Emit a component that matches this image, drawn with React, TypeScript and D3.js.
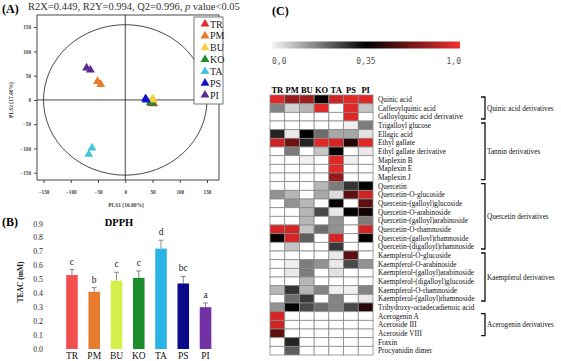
import React, { useEffect, useRef } from 'react';
import * as d3 from 'd3';

const groups = ['TR', 'PM', 'BU', 'KO', 'TA', 'PS', 'PI'];
const scoreColors = ['#e42a2a', '#ec7a2c', '#f6cf45', '#1f8b2f', '#45c6d8', '#1212c8', '#5b2a8e'];

// PLS-DA score plot, two replicates per group
const scoreGroup = ['TR', 'TR', 'KO', 'KO', 'BU', 'BU', 'PS', 'PS', 'PM', 'PM', 'TA', 'TA', 'PI', 'PI'];
const scoreX = [48, 52, 46, 50, 50, 52, 37, 39, -51, -45, -61, -67, -71, -64];
const scoreY = [-7, -8, -5, -6, 2, 0, 2, 0, 38, 32, -99, -112, 66, 62];
const scoreTicks = [-150, -100, -50, 0, 50, 100, 150];

// DPPH assay
const dpphMean = [0.53, 0.41, 0.49, 0.51, 0.72, 0.47, 0.30];
const dpphErr = [0.04, 0.03, 0.06, 0.05, 0.06, 0.05, 0.03];
const dpphLetters = ['c', 'b', 'c', 'c', 'd', 'bc', 'a'];
const barColors = ['#f24f4f', '#e87b2e', '#d5ef4a', '#1d8d2b', '#2bb3e6', '#0b0b8a', '#7131a2'];
const dpphTicks = [0, 0.1, 0.2, 0.3, 0.4, 0.5, 0.6, 0.7, 0.8, 0.9];

// heatmap
const compounds = [
  'Quinic acid', 'Caffeoylquinic acid', 'Galloylquinic acid derivative', 'Trigalloyl glucose',
  'Ellagic acid', 'Ethyl gallate', 'Ethyl gallate derivative', 'Maplexin B', 'Maplexin E', 'Maplexin J',
  'Quercetin', 'Quercetin-O-glucoside', 'Quercetin-(galloyl)glucoside', 'Quercetin-O-arabinoside',
  'Quercetin-(galloyl)arabinoside', 'Quercetin-O-rhamnoside', 'Quercetin-(galloyl)rhamnoside',
  'Quercetin-(digalloyl)rhamnoside', 'Kaempferol-O-glucoside', 'Kaempferol-O-arabinoside',
  'Kaempferol-(galloyl)arabinoside', 'Kaempferol-(digalloyl)glucoside', 'Kaempferol-O-rhamnoside',
  'Kaempferol-(galloyl)rhamnoside', 'Trihydroxy-octadecadienoic acid', 'Acerogenin A', 'Aceroside III',
  'Aceroside VIII', 'Fraxin', 'Procyanidin dimer',
];
const heatValues = [
  [0.95, 0.75, 0.78, 0.38, 0.9, 0.95, 0.95],
  [0.17, 0.06, 0.1, 0.95, 0, 0.95, 0.08],
  [0, 0, 0, 0, 0, 0.95, 0],
  [0, 0, 0, 0, 0, 0.02, 0.18],
  [0.3, 0.03, 0.35, 0.2, 0.12, 0.12, 0.04],
  [0.9, 0.65, 0.3, 0.95, 0.92, 0.45, 0.95],
  [0, 0.18, 0, 0.08, 0.36, 0, 0.03],
  [0, 0, 0.02, 0, 0.95, 0.02, 0],
  [0, 0, 0, 0, 0.95, 0, 0],
  [0, 0, 0, 0, 0.75, 0, 0],
  [0, 0, 0, 0.1, 0.18, 0.28, 0.36],
  [0.15, 0.1, 0, 0.12, 0.05, 0.6, 0.9],
  [0, 0.15, 0.1, 0, 0.36, 0, 0.6],
  [0, 0, 0.1, 0.25, 0.03, 0.36, 0.4],
  [0, 0, 0.1, 0, 0.15, 0, 0.18],
  [0.92, 0.92, 0.08, 0.2, 0.15, 0, 0.92],
  [0.38, 0.92, 0.22, 0, 0.92, 0, 0.36],
  [0, 0.08, 0, 0, 0.27, 0, 0],
  [0, 0, 0, 0, 0.03, 0.6, 0],
  [0, 0.02, 0.18, 0.15, 0.03, 0.25, 0.15],
  [0, 0.03, 0.18, 0, 0.04, 0, 0],
  [0, 0, 0.1, 0, 0, 0, 0],
  [0.1, 0.28, 0.1, 0.17, 0.02, 0.02, 0.17],
  [0, 0.2, 0.27, 0, 0.17, 0, 0.03],
  [0.15, 0.36, 0.25, 0.2, 0.17, 0.25, 0.45],
  [0.92, 0, 0, 0, 0, 0, 0],
  [0.9, 0, 0, 0, 0, 0, 0],
  [0.6, 0, 0, 0, 0, 0, 0],
  [0, 0.3, 0, 0, 0, 0, 0],
  [0, 0.22, 0, 0, 0, 0, 0],
];
const classLabels = ['Quinic acid derivatives', 'Tannin derivatives', 'Quercetin derivatives', 'Kaempferol derivatives', 'Acerogenin  derivatives'];
const classFirst = [0, 3, 10, 18, 25];
const classLast = [2, 9, 17, 23, 27];

const serif = "'Liberation Serif', 'Times New Roman', serif";

export default function App() {
  const svgRef = useRef<SVGSVGElement>(null);

  useEffect(() => {
    const svg = d3.select(svgRef.current);
    svg.selectAll('*').remove();

    // ---------- (A) score plot ----------
    const a = svg.append('g');
    const x = d3.scaleLinear().domain([-162, 172]).range([37, 219]);
    const y = d3.scaleLinear().domain([-165, 175]).range([180, 15]);

    a.append('text').attr('x', 2).attr('y', 13).attr('font-family', serif)
      .attr('font-weight', 'bold').attr('font-size', 12).text('(A)');
    const title = a.append('text').attr('x', 28).attr('y', 9.5).attr('font-family', serif)
      .attr('font-size', 10.5).attr('fill', '#333');
    title.append('tspan').text('R2X=0.449, R2Y=0.994, Q2=0.996, ');
    title.append('tspan').attr('font-style', 'italic').text('p');
    title.append('tspan').text(' value<0.05');

    a.append('rect').attr('x', 37).attr('y', 15).attr('width', 182).attr('height', 165)
      .attr('fill', 'white').attr('stroke', '#333').attr('stroke-width', 0.9);

    a.append('ellipse').attr('cx', x(0)).attr('cy', y(0))
      .attr('rx', x(150) - x(0)).attr('ry', y(0) - y(155))
      .attr('fill', 'none').attr('stroke', '#333').attr('stroke-width', 0.9);
    a.append('line').attr('x1', x(0)).attr('x2', x(0)).attr('y1', 15).attr('y2', 180)
      .attr('stroke', '#333').attr('stroke-width', 0.9);
    a.append('line').attr('x1', 37).attr('x2', 219).attr('y1', y(0)).attr('y2', y(0))
      .attr('stroke', '#333').attr('stroke-width', 0.9);

    const xAxis = a.append('g').attr('transform', 'translate(0,180)')
      .call(d3.axisBottom(x).tickValues(scoreTicks).tickSize(3).tickPadding(7));
    const yAxis = a.append('g').attr('transform', 'translate(37,0)')
      .call(d3.axisLeft(y).tickValues(scoreTicks).tickSize(3).tickPadding(3));
    [xAxis, yAxis].forEach(ax => {
      ax.select('.domain').remove();
      ax.selectAll('line').attr('stroke', '#444');
      ax.selectAll('text').attr('font-family', serif).attr('font-size', 5.2)
        .attr('font-weight', 'bold').attr('fill', '#444');
    });

    a.append('text').attr('x', 126).attr('y', 207).attr('text-anchor', 'middle')
      .attr('font-family', serif).attr('font-size', 5.5).attr('font-weight', 'bold')
      .attr('fill', '#444').text('PLS1 (16.00%)');
    a.append('text').attr('transform', 'translate(13,100) rotate(-90)').attr('text-anchor', 'middle')
      .attr('font-family', serif).attr('font-size', 5.5).attr('font-weight', 'bold')
      .attr('fill', '#444').text('PLS2 (17.40%)');

    const color = d3.scaleOrdinal<string, string>().domain(groups).range(scoreColors);
    const tri = d3.symbol().type(d3.symbolTriangle).size(34);
    a.selectAll('.pt').data(scoreX).join('path').attr('class', 'pt')
      .attr('d', tri)
      .attr('transform', (d, i) => `translate(${x(d)},${y(scoreY[i])})`)
      .attr('fill', (d, i) => color(scoreGroup[i]));

    const legend = a.append('g');
    legend.append('rect').attr('x', 194).attr('y', 17).attr('width', 29).attr('height', 87)
      .attr('fill', 'white').attr('stroke', '#555').attr('stroke-width', 0.8);
    const ly = d3.scalePoint().domain(groups).range([24, 95]);
    groups.forEach(g => {
      legend.append('path').attr('d', tri).attr('transform', `translate(205,${ly(g)})`)
        .attr('fill', color(g));
      legend.append('text').attr('x', 210).attr('y', (ly(g) || 0) + 3.5)
        .attr('font-family', serif).attr('font-size', 10).attr('fill', '#222').text(g);
    });

    // ---------- (B) DPPH bars ----------
    const b = svg.append('g');
    const bx = d3.scaleBand().domain(groups).range([55.5, 222]).padding(0.48);
    const by = d3.scaleLinear().domain([0, 0.9]).range([349, 223.5]);

    b.append('text').attr('x', 2).attr('y', 226).attr('font-family', serif)
      .attr('font-weight', 'bold').attr('font-size', 12).text('(B)');
    b.append('text').attr('x', 119).attr('y', 226).attr('text-anchor', 'middle')
      .attr('font-family', serif).attr('font-weight', 'bold').attr('font-size', 10.5).text('DPPH');

    const bAxis = b.append('g').attr('transform', 'translate(45,0)')
      .call(d3.axisLeft(by).tickValues(dpphTicks).tickFormat(d3.format('.1f')).tickSize(0).tickPadding(2));
    bAxis.select('.domain').remove();
    bAxis.selectAll('text').attr('font-family', serif).attr('font-size', 7.8).attr('fill', '#222');

    b.append('text').attr('transform', 'translate(23,282) rotate(-90)').attr('text-anchor', 'middle')
      .attr('font-family', serif).attr('font-size', 7.5).attr('font-weight', 'bold').attr('fill', '#222')
      .text('TEAC (mM)');

    b.selectAll('.err').data(dpphMean).join('path').attr('class', 'err')
      .attr('d', (d, i) => {
        const cx = (bx(groups[i]) || 0) + bx.bandwidth() / 2;
        const top = by(d + dpphErr[i]);
        return `M${cx},${by(d)}V${top}M${cx - 2.5},${top}H${cx + 2.5}`;
      })
      .attr('stroke', '#888').attr('stroke-width', 1).attr('fill', 'none');

    b.selectAll('.bar').data(dpphMean).join('rect').attr('class', 'bar')
      .attr('x', (d, i) => bx(groups[i]) || 0)
      .attr('y', d => by(d))
      .attr('width', bx.bandwidth())
      .attr('height', d => by(0) - by(d))
      .attr('fill', (d, i) => barColors[i]);

    b.selectAll('.sig').data(dpphLetters).join('text').attr('class', 'sig')
      .attr('x', (d, i) => (bx(groups[i]) || 0) + bx.bandwidth() / 2)
      .attr('y', (d, i) => by(dpphMean[i] + dpphErr[i]) - 5)
      .attr('text-anchor', 'middle').attr('font-family', serif).attr('font-size', 9.5)
      .attr('fill', '#222').text(d => d);

    b.selectAll('.cat').data(groups).join('text').attr('class', 'cat')
      .attr('x', d => (bx(d) || 0) + bx.bandwidth() / 2)
      .attr('y', 359)
      .attr('text-anchor', 'middle').attr('font-family', serif).attr('font-size', 9.5)
      .attr('fill', '#111').text(d => d);

    // ---------- (C) heatmap ----------
    const c = svg.append('g');
    c.append('text').attr('x', 272).attr('y', 15).attr('font-family', serif)
      .attr('font-weight', 'bold').attr('font-size', 12).text('(C)');

    const defs = svg.append('defs');
    const grad = defs.append('linearGradient').attr('id', 'heatgrad');
    grad.append('stop').attr('offset', '0%').attr('stop-color', '#f6f6f6');
    grad.append('stop').attr('offset', '50%').attr('stop-color', '#000');
    grad.append('stop').attr('offset', '100%').attr('stop-color', '#f03030');
    c.append('rect').attr('x', 272).attr('y', 41.5).attr('width', 188).attr('height', 7)
      .attr('fill', 'url(#heatgrad)');
    const barLabels = [['0,0', 272, 'start'], ['0,35', 366, 'middle'], ['1,0', 461, 'end']];
    barLabels.forEach(([t, px, anchor]) => {
      c.append('text').attr('x', px as number).attr('y', 64).attr('text-anchor', anchor as string)
        .attr('font-family', "'DejaVu Sans Mono', monospace").attr('font-size', 8)
        .attr('fill', '#555').text(t as string);
    });

    const hx = d3.scaleBand().domain(groups).range([270, 373]);
    const hy = d3.scaleBand().domain(compounds).range([95, 355]);
    const heat = d3.scaleLinear<string>().domain([0, 0.35, 1]).range(['#ffffff', '#000000', '#f52a2a']);

    c.selectAll('.hdr').data(groups).join('text').attr('class', 'hdr')
      .attr('x', d => (hx(d) || 0) + hx.bandwidth() / 2).attr('y', 93)
      .attr('text-anchor', 'middle').attr('font-family', serif).attr('font-weight', 'bold')
      .attr('font-size', 8.5).text(d => d);

    compounds.forEach((name, r) => {
      c.selectAll(`.cell${r}`).data(heatValues[r]).join('rect').attr('class', `cell${r}`)
        .attr('x', (d, i) => hx(groups[i]) || 0)
        .attr('y', hy(name) || 0)
        .attr('width', hx.bandwidth()).attr('height', hy.bandwidth())
        .attr('fill', d => heat(d)).attr('stroke', '#8a8a8a').attr('stroke-width', 0.8);
    });

    c.selectAll('.rowlab').data(compounds).join('text').attr('class', 'rowlab')
      .attr('x', 378).attr('y', d => (hy(d) || 0) + hy.bandwidth() / 2 + 2.5)
      .attr('font-family', serif).attr('font-size', 7.3).attr('fill', '#111').text(d => d);

    classLabels.forEach((lab, k) => {
      const y0 = (hy(compounds[classFirst[k]]) || 0) + 2;
      const y1 = (hy(compounds[classLast[k]]) || 0) + hy.bandwidth() - 2;
      c.append('path').attr('d', `M481,${y0}H485V${y1}H481`)
        .attr('fill', 'none').attr('stroke', '#111').attr('stroke-width', 1.3);
      c.append('text').attr('x', 487).attr('y', (y0 + y1) / 2 + 2.5)
        .attr('font-family', serif).attr('font-size', 7.2).attr('fill', '#111').text(lab);
    });
  }, []);

  return (
    <React.Fragment>
      <svg ref={svgRef} width={561} height={361}
        style={{ position: 'absolute', left: 0, top: 0, background: 'white' }}></svg>
    </React.Fragment>
  );
}
